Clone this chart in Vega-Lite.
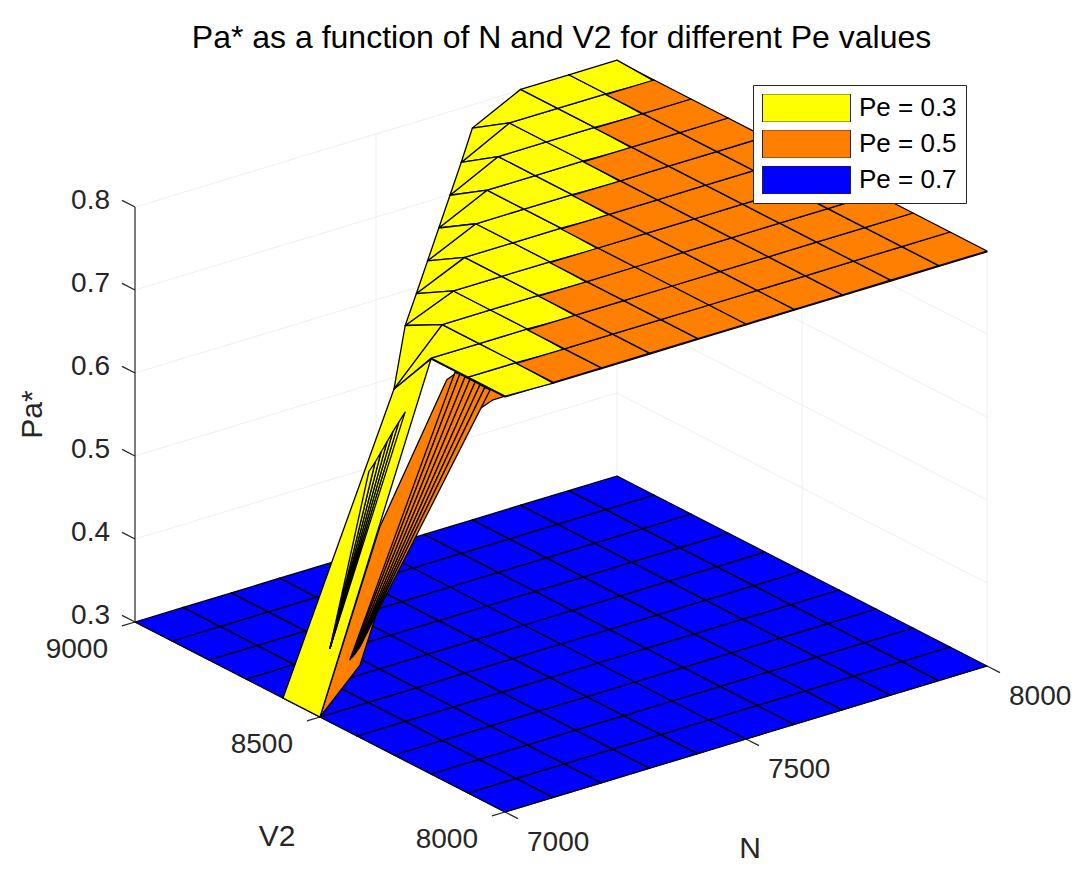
{
  "$schema": "https://vega.github.io/schema/vega-lite/v6.json",
  "width": 1089,
  "height": 805,
  "autosize": {"type": "none"},
  "padding": {"top": 70, "left": 0, "right": 0, "bottom": 0},
  "background": "white",
  "config": {"view": {"stroke": null}, "font": "Liberation Sans"},
  "title": {
    "text": "Pa* as a function of N and V2 for different Pe values",
    "fontSize": 32,
    "font": "Liberation Sans",
    "fontWeight": "normal",
    "color": "#000000",
    "frame": "group",
    "anchor": "middle",
    "baseline": "alphabetic",
    "offset": 22,
    "dx": 17,
    "dy": 43
  },
  "datasets": {
    "frame": [
      {"kind": "g", "id": "gz4", "N": [7000, 8000, 8000], "V2": [9000, 9000, 8000], "Pa": [0.4, 0.4, 0.4]},
      {"kind": "g", "id": "gz5", "N": [7000, 8000, 8000], "V2": [9000, 9000, 8000], "Pa": [0.5, 0.5, 0.5]},
      {"kind": "g", "id": "gz6", "N": [7000, 8000, 8000], "V2": [9000, 9000, 8000], "Pa": [0.6, 0.6, 0.6]},
      {"kind": "g", "id": "gz7", "N": [7000, 8000, 8000], "V2": [9000, 9000, 8000], "Pa": [0.7, 0.7, 0.7]},
      {"kind": "g", "id": "gz8", "N": [7000, 8000, 8000], "V2": [9000, 9000, 8000], "Pa": [0.8, 0.8, 0.8]},
      {"kind": "g", "id": "gn75", "N": [7500, 7500], "V2": [9000, 9000], "Pa": [0.3, 0.8]},
      {"kind": "g", "id": "gn80", "N": [8000, 8000], "V2": [9000, 9000], "Pa": [0.3, 0.8]},
      {"kind": "g", "id": "gv80", "N": [8000, 8000], "V2": [8000, 8000], "Pa": [0.3, 0.8]},
      {"kind": "g", "id": "gv85", "N": [8000, 8000], "V2": [8500, 8500], "Pa": [0.3, 0.8]},
      {"kind": "a", "id": "az", "N": [7000, 7000], "V2": [9000, 9000], "Pa": [0.3, 0.8]},
      {"kind": "a", "id": "av", "N": [7000, 7000], "V2": [8000, 9000], "Pa": [0.3, 0.3]},
      {"kind": "a", "id": "an", "N": [7000, 8000], "V2": [8000, 8000], "Pa": [0.3, 0.3]},
      {"kind": "a", "id": "tz3", "N": [7000, 7000], "V2": [9000, 9035], "Pa": [0.3, 0.3]},
      {"kind": "a", "id": "tz4", "N": [7000, 7000], "V2": [9000, 9035], "Pa": [0.4, 0.4]},
      {"kind": "a", "id": "tz5", "N": [7000, 7000], "V2": [9000, 9035], "Pa": [0.5, 0.5]},
      {"kind": "a", "id": "tz6", "N": [7000, 7000], "V2": [9000, 9035], "Pa": [0.6, 0.6]},
      {"kind": "a", "id": "tz7", "N": [7000, 7000], "V2": [9000, 9035], "Pa": [0.7, 0.7]},
      {"kind": "a", "id": "tz8", "N": [7000, 7000], "V2": [9000, 9035], "Pa": [0.8, 0.8]},
      {"kind": "a", "id": "tv80", "N": [7000, 6973], "V2": [8000, 8000], "Pa": [0.3, 0.3]},
      {"kind": "a", "id": "tv85", "N": [7000, 6973], "V2": [8500, 8500], "Pa": [0.3, 0.3]},
      {"kind": "a", "id": "tv90", "N": [7000, 6973], "V2": [9000, 9000], "Pa": [0.3, 0.3]},
      {"kind": "a", "id": "tn70", "N": [7000, 7000], "V2": [8000, 7965], "Pa": [0.3, 0.3]},
      {"kind": "a", "id": "tn75", "N": [7500, 7500], "V2": [8000, 7965], "Pa": [0.3, 0.3]},
      {"kind": "a", "id": "tn80", "N": [8000, 8000], "V2": [8000, 7965], "Pa": [0.3, 0.3]}
    ],
    "labels": [
      {"kind": "z", "t": "0.3", "N": 7000, "V2": 9000, "Pa": 0.3},
      {"kind": "z", "t": "0.4", "N": 7000, "V2": 9000, "Pa": 0.4},
      {"kind": "z", "t": "0.5", "N": 7000, "V2": 9000, "Pa": 0.5},
      {"kind": "z", "t": "0.6", "N": 7000, "V2": 9000, "Pa": 0.6},
      {"kind": "z", "t": "0.7", "N": 7000, "V2": 9000, "Pa": 0.7},
      {"kind": "z", "t": "0.8", "N": 7000, "V2": 9000, "Pa": 0.8},
      {"kind": "v", "t": "8000", "N": 7000, "V2": 8000, "Pa": 0.3},
      {"kind": "v", "t": "8500", "N": 7000, "V2": 8500, "Pa": 0.3},
      {"kind": "v", "t": "9000", "N": 7000, "V2": 9000, "Pa": 0.3},
      {"kind": "n", "t": "7000", "N": 7000, "V2": 8000, "Pa": 0.3},
      {"kind": "n", "t": "7500", "N": 7500, "V2": 8000, "Pa": 0.3},
      {"kind": "n", "t": "8000", "N": 8000, "V2": 8000, "Pa": 0.3},
      {"kind": "tv", "t": "V2", "N": 7000, "V2": 8500, "Pa": 0.3},
      {"kind": "tn", "t": "N", "N": 7500, "V2": 8000, "Pa": 0.3},
      {"kind": "tz", "t": "Pa*", "N": 7000, "V2": 9000, "Pa": 0.55}
    ],
    "cells": [
      {"Pe": "0.7", "id": "b00", "N": [7000,7100,7100,7000], "V2": [8000,8000,8100,8100], "Pa": [0.3,0.3,0.3,0.3]},
      {"Pe": "0.7", "id": "b10", "N": [7100,7200,7200,7100], "V2": [8000,8000,8100,8100], "Pa": [0.3,0.3,0.3,0.3]},
      {"Pe": "0.7", "id": "b20", "N": [7200,7300,7300,7200], "V2": [8000,8000,8100,8100], "Pa": [0.3,0.3,0.3,0.3]},
      {"Pe": "0.7", "id": "b30", "N": [7300,7400,7400,7300], "V2": [8000,8000,8100,8100], "Pa": [0.3,0.3,0.3,0.3]},
      {"Pe": "0.7", "id": "b40", "N": [7400,7500,7500,7400], "V2": [8000,8000,8100,8100], "Pa": [0.3,0.3,0.3,0.3]},
      {"Pe": "0.7", "id": "b50", "N": [7500,7600,7600,7500], "V2": [8000,8000,8100,8100], "Pa": [0.3,0.3,0.3,0.3]},
      {"Pe": "0.7", "id": "b60", "N": [7600,7700,7700,7600], "V2": [8000,8000,8100,8100], "Pa": [0.3,0.3,0.3,0.3]},
      {"Pe": "0.7", "id": "b70", "N": [7700,7800,7800,7700], "V2": [8000,8000,8100,8100], "Pa": [0.3,0.3,0.3,0.3]},
      {"Pe": "0.7", "id": "b80", "N": [7800,7900,7900,7800], "V2": [8000,8000,8100,8100], "Pa": [0.3,0.3,0.3,0.3]},
      {"Pe": "0.7", "id": "b90", "N": [7900,8000,8000,7900], "V2": [8000,8000,8100,8100], "Pa": [0.3,0.3,0.3,0.3]},
      {"Pe": "0.7", "id": "b01", "N": [7000,7100,7100,7000], "V2": [8100,8100,8200,8200], "Pa": [0.3,0.3,0.3,0.3]},
      {"Pe": "0.7", "id": "b11", "N": [7100,7200,7200,7100], "V2": [8100,8100,8200,8200], "Pa": [0.3,0.3,0.3,0.3]},
      {"Pe": "0.7", "id": "b21", "N": [7200,7300,7300,7200], "V2": [8100,8100,8200,8200], "Pa": [0.3,0.3,0.3,0.3]},
      {"Pe": "0.7", "id": "b31", "N": [7300,7400,7400,7300], "V2": [8100,8100,8200,8200], "Pa": [0.3,0.3,0.3,0.3]},
      {"Pe": "0.7", "id": "b41", "N": [7400,7500,7500,7400], "V2": [8100,8100,8200,8200], "Pa": [0.3,0.3,0.3,0.3]},
      {"Pe": "0.7", "id": "b51", "N": [7500,7600,7600,7500], "V2": [8100,8100,8200,8200], "Pa": [0.3,0.3,0.3,0.3]},
      {"Pe": "0.7", "id": "b61", "N": [7600,7700,7700,7600], "V2": [8100,8100,8200,8200], "Pa": [0.3,0.3,0.3,0.3]},
      {"Pe": "0.7", "id": "b71", "N": [7700,7800,7800,7700], "V2": [8100,8100,8200,8200], "Pa": [0.3,0.3,0.3,0.3]},
      {"Pe": "0.7", "id": "b81", "N": [7800,7900,7900,7800], "V2": [8100,8100,8200,8200], "Pa": [0.3,0.3,0.3,0.3]},
      {"Pe": "0.7", "id": "b91", "N": [7900,8000,8000,7900], "V2": [8100,8100,8200,8200], "Pa": [0.3,0.3,0.3,0.3]},
      {"Pe": "0.7", "id": "b02", "N": [7000,7100,7100,7000], "V2": [8200,8200,8300,8300], "Pa": [0.3,0.3,0.3,0.3]},
      {"Pe": "0.7", "id": "b12", "N": [7100,7200,7200,7100], "V2": [8200,8200,8300,8300], "Pa": [0.3,0.3,0.3,0.3]},
      {"Pe": "0.7", "id": "b22", "N": [7200,7300,7300,7200], "V2": [8200,8200,8300,8300], "Pa": [0.3,0.3,0.3,0.3]},
      {"Pe": "0.7", "id": "b32", "N": [7300,7400,7400,7300], "V2": [8200,8200,8300,8300], "Pa": [0.3,0.3,0.3,0.3]},
      {"Pe": "0.7", "id": "b42", "N": [7400,7500,7500,7400], "V2": [8200,8200,8300,8300], "Pa": [0.3,0.3,0.3,0.3]},
      {"Pe": "0.7", "id": "b52", "N": [7500,7600,7600,7500], "V2": [8200,8200,8300,8300], "Pa": [0.3,0.3,0.3,0.3]},
      {"Pe": "0.7", "id": "b62", "N": [7600,7700,7700,7600], "V2": [8200,8200,8300,8300], "Pa": [0.3,0.3,0.3,0.3]},
      {"Pe": "0.7", "id": "b72", "N": [7700,7800,7800,7700], "V2": [8200,8200,8300,8300], "Pa": [0.3,0.3,0.3,0.3]},
      {"Pe": "0.7", "id": "b82", "N": [7800,7900,7900,7800], "V2": [8200,8200,8300,8300], "Pa": [0.3,0.3,0.3,0.3]},
      {"Pe": "0.7", "id": "b92", "N": [7900,8000,8000,7900], "V2": [8200,8200,8300,8300], "Pa": [0.3,0.3,0.3,0.3]},
      {"Pe": "0.7", "id": "b03", "N": [7000,7100,7100,7000], "V2": [8300,8300,8400,8400], "Pa": [0.3,0.3,0.3,0.3]},
      {"Pe": "0.7", "id": "b13", "N": [7100,7200,7200,7100], "V2": [8300,8300,8400,8400], "Pa": [0.3,0.3,0.3,0.3]},
      {"Pe": "0.7", "id": "b23", "N": [7200,7300,7300,7200], "V2": [8300,8300,8400,8400], "Pa": [0.3,0.3,0.3,0.3]},
      {"Pe": "0.7", "id": "b33", "N": [7300,7400,7400,7300], "V2": [8300,8300,8400,8400], "Pa": [0.3,0.3,0.3,0.3]},
      {"Pe": "0.7", "id": "b43", "N": [7400,7500,7500,7400], "V2": [8300,8300,8400,8400], "Pa": [0.3,0.3,0.3,0.3]},
      {"Pe": "0.7", "id": "b53", "N": [7500,7600,7600,7500], "V2": [8300,8300,8400,8400], "Pa": [0.3,0.3,0.3,0.3]},
      {"Pe": "0.7", "id": "b63", "N": [7600,7700,7700,7600], "V2": [8300,8300,8400,8400], "Pa": [0.3,0.3,0.3,0.3]},
      {"Pe": "0.7", "id": "b73", "N": [7700,7800,7800,7700], "V2": [8300,8300,8400,8400], "Pa": [0.3,0.3,0.3,0.3]},
      {"Pe": "0.7", "id": "b83", "N": [7800,7900,7900,7800], "V2": [8300,8300,8400,8400], "Pa": [0.3,0.3,0.3,0.3]},
      {"Pe": "0.7", "id": "b93", "N": [7900,8000,8000,7900], "V2": [8300,8300,8400,8400], "Pa": [0.3,0.3,0.3,0.3]},
      {"Pe": "0.7", "id": "b04", "N": [7000,7100,7100,7000], "V2": [8400,8400,8500,8500], "Pa": [0.3,0.3,0.3,0.3]},
      {"Pe": "0.7", "id": "b14", "N": [7100,7200,7200,7100], "V2": [8400,8400,8500,8500], "Pa": [0.3,0.3,0.3,0.3]},
      {"Pe": "0.7", "id": "b24", "N": [7200,7300,7300,7200], "V2": [8400,8400,8500,8500], "Pa": [0.3,0.3,0.3,0.3]},
      {"Pe": "0.7", "id": "b34", "N": [7300,7400,7400,7300], "V2": [8400,8400,8500,8500], "Pa": [0.3,0.3,0.3,0.3]},
      {"Pe": "0.7", "id": "b44", "N": [7400,7500,7500,7400], "V2": [8400,8400,8500,8500], "Pa": [0.3,0.3,0.3,0.3]},
      {"Pe": "0.7", "id": "b54", "N": [7500,7600,7600,7500], "V2": [8400,8400,8500,8500], "Pa": [0.3,0.3,0.3,0.3]},
      {"Pe": "0.7", "id": "b64", "N": [7600,7700,7700,7600], "V2": [8400,8400,8500,8500], "Pa": [0.3,0.3,0.3,0.3]},
      {"Pe": "0.7", "id": "b74", "N": [7700,7800,7800,7700], "V2": [8400,8400,8500,8500], "Pa": [0.3,0.3,0.3,0.3]},
      {"Pe": "0.7", "id": "b84", "N": [7800,7900,7900,7800], "V2": [8400,8400,8500,8500], "Pa": [0.3,0.3,0.3,0.3]},
      {"Pe": "0.7", "id": "b94", "N": [7900,8000,8000,7900], "V2": [8400,8400,8500,8500], "Pa": [0.3,0.3,0.3,0.3]},
      {"Pe": "0.7", "id": "b05", "N": [7000,7100,7100,7000], "V2": [8500,8500,8600,8600], "Pa": [0.3,0.3,0.3,0.3]},
      {"Pe": "0.7", "id": "b15", "N": [7100,7200,7200,7100], "V2": [8500,8500,8600,8600], "Pa": [0.3,0.3,0.3,0.3]},
      {"Pe": "0.7", "id": "b25", "N": [7200,7300,7300,7200], "V2": [8500,8500,8600,8600], "Pa": [0.3,0.3,0.3,0.3]},
      {"Pe": "0.7", "id": "b35", "N": [7300,7400,7400,7300], "V2": [8500,8500,8600,8600], "Pa": [0.3,0.3,0.3,0.3]},
      {"Pe": "0.7", "id": "b45", "N": [7400,7500,7500,7400], "V2": [8500,8500,8600,8600], "Pa": [0.3,0.3,0.3,0.3]},
      {"Pe": "0.7", "id": "b55", "N": [7500,7600,7600,7500], "V2": [8500,8500,8600,8600], "Pa": [0.3,0.3,0.3,0.3]},
      {"Pe": "0.7", "id": "b65", "N": [7600,7700,7700,7600], "V2": [8500,8500,8600,8600], "Pa": [0.3,0.3,0.3,0.3]},
      {"Pe": "0.7", "id": "b75", "N": [7700,7800,7800,7700], "V2": [8500,8500,8600,8600], "Pa": [0.3,0.3,0.3,0.3]},
      {"Pe": "0.7", "id": "b85", "N": [7800,7900,7900,7800], "V2": [8500,8500,8600,8600], "Pa": [0.3,0.3,0.3,0.3]},
      {"Pe": "0.7", "id": "b95", "N": [7900,8000,8000,7900], "V2": [8500,8500,8600,8600], "Pa": [0.3,0.3,0.3,0.3]},
      {"Pe": "0.7", "id": "b06", "N": [7000,7100,7100,7000], "V2": [8600,8600,8700,8700], "Pa": [0.3,0.3,0.3,0.3]},
      {"Pe": "0.7", "id": "b16", "N": [7100,7200,7200,7100], "V2": [8600,8600,8700,8700], "Pa": [0.3,0.3,0.3,0.3]},
      {"Pe": "0.7", "id": "b26", "N": [7200,7300,7300,7200], "V2": [8600,8600,8700,8700], "Pa": [0.3,0.3,0.3,0.3]},
      {"Pe": "0.7", "id": "b36", "N": [7300,7400,7400,7300], "V2": [8600,8600,8700,8700], "Pa": [0.3,0.3,0.3,0.3]},
      {"Pe": "0.7", "id": "b46", "N": [7400,7500,7500,7400], "V2": [8600,8600,8700,8700], "Pa": [0.3,0.3,0.3,0.3]},
      {"Pe": "0.7", "id": "b56", "N": [7500,7600,7600,7500], "V2": [8600,8600,8700,8700], "Pa": [0.3,0.3,0.3,0.3]},
      {"Pe": "0.7", "id": "b66", "N": [7600,7700,7700,7600], "V2": [8600,8600,8700,8700], "Pa": [0.3,0.3,0.3,0.3]},
      {"Pe": "0.7", "id": "b76", "N": [7700,7800,7800,7700], "V2": [8600,8600,8700,8700], "Pa": [0.3,0.3,0.3,0.3]},
      {"Pe": "0.7", "id": "b86", "N": [7800,7900,7900,7800], "V2": [8600,8600,8700,8700], "Pa": [0.3,0.3,0.3,0.3]},
      {"Pe": "0.7", "id": "b96", "N": [7900,8000,8000,7900], "V2": [8600,8600,8700,8700], "Pa": [0.3,0.3,0.3,0.3]},
      {"Pe": "0.7", "id": "b07", "N": [7000,7100,7100,7000], "V2": [8700,8700,8800,8800], "Pa": [0.3,0.3,0.3,0.3]},
      {"Pe": "0.7", "id": "b17", "N": [7100,7200,7200,7100], "V2": [8700,8700,8800,8800], "Pa": [0.3,0.3,0.3,0.3]},
      {"Pe": "0.7", "id": "b27", "N": [7200,7300,7300,7200], "V2": [8700,8700,8800,8800], "Pa": [0.3,0.3,0.3,0.3]},
      {"Pe": "0.7", "id": "b37", "N": [7300,7400,7400,7300], "V2": [8700,8700,8800,8800], "Pa": [0.3,0.3,0.3,0.3]},
      {"Pe": "0.7", "id": "b47", "N": [7400,7500,7500,7400], "V2": [8700,8700,8800,8800], "Pa": [0.3,0.3,0.3,0.3]},
      {"Pe": "0.7", "id": "b57", "N": [7500,7600,7600,7500], "V2": [8700,8700,8800,8800], "Pa": [0.3,0.3,0.3,0.3]},
      {"Pe": "0.7", "id": "b67", "N": [7600,7700,7700,7600], "V2": [8700,8700,8800,8800], "Pa": [0.3,0.3,0.3,0.3]},
      {"Pe": "0.7", "id": "b77", "N": [7700,7800,7800,7700], "V2": [8700,8700,8800,8800], "Pa": [0.3,0.3,0.3,0.3]},
      {"Pe": "0.7", "id": "b87", "N": [7800,7900,7900,7800], "V2": [8700,8700,8800,8800], "Pa": [0.3,0.3,0.3,0.3]},
      {"Pe": "0.7", "id": "b97", "N": [7900,8000,8000,7900], "V2": [8700,8700,8800,8800], "Pa": [0.3,0.3,0.3,0.3]},
      {"Pe": "0.7", "id": "b08", "N": [7000,7100,7100,7000], "V2": [8800,8800,8900,8900], "Pa": [0.3,0.3,0.3,0.3]},
      {"Pe": "0.7", "id": "b18", "N": [7100,7200,7200,7100], "V2": [8800,8800,8900,8900], "Pa": [0.3,0.3,0.3,0.3]},
      {"Pe": "0.7", "id": "b28", "N": [7200,7300,7300,7200], "V2": [8800,8800,8900,8900], "Pa": [0.3,0.3,0.3,0.3]},
      {"Pe": "0.7", "id": "b38", "N": [7300,7400,7400,7300], "V2": [8800,8800,8900,8900], "Pa": [0.3,0.3,0.3,0.3]},
      {"Pe": "0.7", "id": "b48", "N": [7400,7500,7500,7400], "V2": [8800,8800,8900,8900], "Pa": [0.3,0.3,0.3,0.3]},
      {"Pe": "0.7", "id": "b58", "N": [7500,7600,7600,7500], "V2": [8800,8800,8900,8900], "Pa": [0.3,0.3,0.3,0.3]},
      {"Pe": "0.7", "id": "b68", "N": [7600,7700,7700,7600], "V2": [8800,8800,8900,8900], "Pa": [0.3,0.3,0.3,0.3]},
      {"Pe": "0.7", "id": "b78", "N": [7700,7800,7800,7700], "V2": [8800,8800,8900,8900], "Pa": [0.3,0.3,0.3,0.3]},
      {"Pe": "0.7", "id": "b88", "N": [7800,7900,7900,7800], "V2": [8800,8800,8900,8900], "Pa": [0.3,0.3,0.3,0.3]},
      {"Pe": "0.7", "id": "b98", "N": [7900,8000,8000,7900], "V2": [8800,8800,8900,8900], "Pa": [0.3,0.3,0.3,0.3]},
      {"Pe": "0.7", "id": "b09", "N": [7000,7100,7100,7000], "V2": [8900,8900,9000,9000], "Pa": [0.3,0.3,0.3,0.3]},
      {"Pe": "0.7", "id": "b19", "N": [7100,7200,7200,7100], "V2": [8900,8900,9000,9000], "Pa": [0.3,0.3,0.3,0.3]},
      {"Pe": "0.7", "id": "b29", "N": [7200,7300,7300,7200], "V2": [8900,8900,9000,9000], "Pa": [0.3,0.3,0.3,0.3]},
      {"Pe": "0.7", "id": "b39", "N": [7300,7400,7400,7300], "V2": [8900,8900,9000,9000], "Pa": [0.3,0.3,0.3,0.3]},
      {"Pe": "0.7", "id": "b49", "N": [7400,7500,7500,7400], "V2": [8900,8900,9000,9000], "Pa": [0.3,0.3,0.3,0.3]},
      {"Pe": "0.7", "id": "b59", "N": [7500,7600,7600,7500], "V2": [8900,8900,9000,9000], "Pa": [0.3,0.3,0.3,0.3]},
      {"Pe": "0.7", "id": "b69", "N": [7600,7700,7700,7600], "V2": [8900,8900,9000,9000], "Pa": [0.3,0.3,0.3,0.3]},
      {"Pe": "0.7", "id": "b79", "N": [7700,7800,7800,7700], "V2": [8900,8900,9000,9000], "Pa": [0.3,0.3,0.3,0.3]},
      {"Pe": "0.7", "id": "b89", "N": [7800,7900,7900,7800], "V2": [8900,8900,9000,9000], "Pa": [0.3,0.3,0.3,0.3]},
      {"Pe": "0.7", "id": "b99", "N": [7900,8000,8000,7900], "V2": [8900,8900,9000,9000], "Pa": [0.3,0.3,0.3,0.3]},

      {"Pe": "0.5", "id": "ow", "N": [7000,7083,7151,7243,7317,7359,7442,7284,7263,7124], "V2": [8500,8500,8500,8500,8500,8500,8500,8500,8500,8500], "Pa": [0.3,0.348,0.459,0.563,0.61,0.619,0.619,0.665,0.66,0.507]},
      {"Pe": "0.5", "id": "os0", "N": [7280,7290,7065,7062], "V2": [8500,8500,8500,8500], "Pa": [0.666,0.662,0.36,0.358]},
      {"Pe": "0.5", "id": "os1", "N": [7290,7301,7068,7065], "V2": [8500,8500,8500,8500], "Pa": [0.662,0.657,0.361,0.36]},
      {"Pe": "0.5", "id": "os2", "N": [7301,7311,7072,7068], "V2": [8500,8500,8500,8500], "Pa": [0.657,0.652,0.363,0.361]},
      {"Pe": "0.5", "id": "os3", "N": [7311,7322,7075,7072], "V2": [8500,8500,8500,8500], "Pa": [0.652,0.647,0.365,0.363]},
      {"Pe": "0.5", "id": "os4", "N": [7322,7332,7078,7075], "V2": [8500,8500,8500,8500], "Pa": [0.647,0.642,0.367,0.365]},
      {"Pe": "0.5", "id": "os5", "N": [7332,7342,7081,7078], "V2": [8500,8500,8500,8500], "Pa": [0.642,0.637,0.369,0.367]},
      {"Pe": "0.5", "id": "os6", "N": [7342,7353,7084,7081], "V2": [8500,8500,8500,8500], "Pa": [0.637,0.632,0.371,0.369]},

      {"Pe": "0.3", "id": "yw", "N": [7000,7000,7000,7000], "V2": [8200,8300,8600,8500], "Pa": [0.8,0.741,0.3,0.3]},
      {"Pe": "0.3", "id": "ys0", "N": [7000,7000,7000], "V2": [8270,8287,8473], "Pa": [0.72,0.704,0.389]},
      {"Pe": "0.3", "id": "ys1", "N": [7000,7000,7000], "V2": [8287,8303,8473], "Pa": [0.704,0.689,0.389]},
      {"Pe": "0.3", "id": "ys2", "N": [7000,7000,7000], "V2": [8303,8319,8473], "Pa": [0.689,0.673,0.389]},
      {"Pe": "0.3", "id": "ys3", "N": [7000,7000,7000], "V2": [8319,8335,8473], "Pa": [0.673,0.657,0.389]},
      {"Pe": "0.3", "id": "ys4", "N": [7000,7000,7000], "V2": [8335,8351,8473], "Pa": [0.657,0.641,0.389]},
      {"Pe": "0.3", "id": "ys5", "N": [7000,7000,7000], "V2": [8351,8368,8473], "Pa": [0.641,0.626,0.389]},

      {"Pe": "0.5", "id": "o00", "N": [7000,7100,7100,7000], "V2": [8000,8000,8100,8100], "Pa": [0.8,0.8,0.8,0.8]},
      {"Pe": "0.5", "id": "o11", "N": [7100,7200,7200,7100], "V2": [8100,8100,8200,8200], "Pa": [0.8,0.8,0.8,0.8]},
      {"Pe": "0.5", "id": "o22", "N": [7200,7300,7300,7200], "V2": [8200,8200,8300,8300], "Pa": [0.8,0.8,0.8,0.8]},
      {"Pe": "0.5", "id": "o33", "N": [7300,7400,7400,7300], "V2": [8300,8300,8400,8400], "Pa": [0.8,0.8,0.8,0.8]},
      {"Pe": "0.5", "id": "o44", "N": [7400,7500,7500,7400], "V2": [8400,8400,8500,8500], "Pa": [0.8,0.8,0.8,0.8]},
      {"Pe": "0.5", "id": "o55", "N": [7500,7600,7600,7500], "V2": [8500,8500,8600,8600], "Pa": [0.8,0.8,0.8,0.8]},
      {"Pe": "0.5", "id": "o66", "N": [7600,7700,7700,7600], "V2": [8600,8600,8700,8700], "Pa": [0.8,0.8,0.8,0.8]},
      {"Pe": "0.5", "id": "o77", "N": [7700,7800,7800,7700], "V2": [8700,8700,8800,8800], "Pa": [0.8,0.8,0.8,0.8]},
      {"Pe": "0.5", "id": "o88", "N": [7800,7900,7900,7800], "V2": [8800,8800,8900,8900], "Pa": [0.8,0.8,0.8,0.8]},
      {"Pe": "0.5", "id": "o99", "N": [7900,8000,8000,7900], "V2": [8900,8900,9000,9000], "Pa": [0.8,0.8,0.8,0.8]},
      {"Pe": "0.5", "id": "o01", "N": [7000,7100,7100,7000], "V2": [8100,8100,8200,8200], "Pa": [0.8,0.8,0.8,0.8]},
      {"Pe": "0.5", "id": "o12", "N": [7100,7200,7200,7100], "V2": [8200,8200,8300,8300], "Pa": [0.8,0.8,0.8,0.8]},
      {"Pe": "0.5", "id": "o23", "N": [7200,7300,7300,7200], "V2": [8300,8300,8400,8400], "Pa": [0.8,0.8,0.8,0.8]},
      {"Pe": "0.5", "id": "o34", "N": [7300,7400,7400,7300], "V2": [8400,8400,8500,8500], "Pa": [0.8,0.8,0.8,0.8]},
      {"Pe": "0.5", "id": "o45", "N": [7400,7500,7500,7400], "V2": [8500,8500,8600,8600], "Pa": [0.8,0.8,0.8,0.8]},
      {"Pe": "0.5", "id": "o56", "N": [7500,7600,7600,7500], "V2": [8600,8600,8700,8700], "Pa": [0.8,0.8,0.8,0.8]},
      {"Pe": "0.5", "id": "o67", "N": [7600,7700,7700,7600], "V2": [8700,8700,8800,8800], "Pa": [0.8,0.8,0.8,0.8]},
      {"Pe": "0.5", "id": "o78", "N": [7700,7800,7800,7700], "V2": [8800,8800,8900,8900], "Pa": [0.8,0.8,0.8,0.8]},
      {"Pe": "0.5", "id": "o89", "N": [7800,7900,7900,7800], "V2": [8900,8900,9000,9000], "Pa": [0.8,0.8,0.8,0.8]},

      {"Pe": "0.3", "id": "y10", "N": [7100,7200,7200,7100], "V2": [8000,8000,8100,8100], "Pa": [0.799,0.799,0.799,0.801]},
      {"Pe": "0.3", "id": "y20", "N": [7200,7300,7300,7200], "V2": [8000,8000,8100,8100], "Pa": [0.799,0.799,0.799,0.799]},
      {"Pe": "0.3", "id": "y30", "N": [7300,7400,7400,7300], "V2": [8000,8000,8100,8100], "Pa": [0.799,0.799,0.799,0.799]},
      {"Pe": "0.3", "id": "y40", "N": [7400,7500,7500,7400], "V2": [8000,8000,8100,8100], "Pa": [0.799,0.799,0.799,0.799]},
      {"Pe": "0.3", "id": "y50", "N": [7500,7600,7600,7500], "V2": [8000,8000,8100,8100], "Pa": [0.799,0.799,0.799,0.799]},
      {"Pe": "0.3", "id": "y60", "N": [7600,7700,7700,7600], "V2": [8000,8000,8100,8100], "Pa": [0.799,0.799,0.799,0.799]},
      {"Pe": "0.3", "id": "y70", "N": [7700,7800,7800,7700], "V2": [8000,8000,8100,8100], "Pa": [0.799,0.799,0.799,0.799]},
      {"Pe": "0.3", "id": "y80", "N": [7800,7900,7900,7800], "V2": [8000,8000,8100,8100], "Pa": [0.799,0.799,0.799,0.799]},
      {"Pe": "0.3", "id": "y90", "N": [7900,8000,8000,7900], "V2": [8000,8000,8100,8100], "Pa": [0.799,0.799,0.799,0.799]},
      {"Pe": "0.3", "id": "y21", "N": [7200,7300,7300,7200], "V2": [8100,8100,8200,8200], "Pa": [0.799,0.799,0.799,0.801]},
      {"Pe": "0.3", "id": "y31", "N": [7300,7400,7400,7300], "V2": [8100,8100,8200,8200], "Pa": [0.799,0.799,0.799,0.799]},
      {"Pe": "0.3", "id": "y41", "N": [7400,7500,7500,7400], "V2": [8100,8100,8200,8200], "Pa": [0.799,0.799,0.799,0.799]},
      {"Pe": "0.3", "id": "y51", "N": [7500,7600,7600,7500], "V2": [8100,8100,8200,8200], "Pa": [0.799,0.799,0.799,0.799]},
      {"Pe": "0.3", "id": "y61", "N": [7600,7700,7700,7600], "V2": [8100,8100,8200,8200], "Pa": [0.799,0.799,0.799,0.799]},
      {"Pe": "0.3", "id": "y71", "N": [7700,7800,7800,7700], "V2": [8100,8100,8200,8200], "Pa": [0.799,0.799,0.799,0.799]},
      {"Pe": "0.3", "id": "y81", "N": [7800,7900,7900,7800], "V2": [8100,8100,8200,8200], "Pa": [0.799,0.799,0.799,0.799]},
      {"Pe": "0.3", "id": "y91", "N": [7900,8000,8000,7900], "V2": [8100,8100,8200,8200], "Pa": [0.799,0.799,0.799,0.799]},
      {"Pe": "0.3", "id": "y32", "N": [7300,7400,7400,7300], "V2": [8200,8200,8300,8300], "Pa": [0.799,0.799,0.799,0.801]},
      {"Pe": "0.3", "id": "y42", "N": [7400,7500,7500,7400], "V2": [8200,8200,8300,8300], "Pa": [0.799,0.799,0.799,0.799]},
      {"Pe": "0.3", "id": "y52", "N": [7500,7600,7600,7500], "V2": [8200,8200,8300,8300], "Pa": [0.799,0.799,0.799,0.799]},
      {"Pe": "0.3", "id": "y62", "N": [7600,7700,7700,7600], "V2": [8200,8200,8300,8300], "Pa": [0.799,0.799,0.799,0.799]},
      {"Pe": "0.3", "id": "y72", "N": [7700,7800,7800,7700], "V2": [8200,8200,8300,8300], "Pa": [0.799,0.799,0.799,0.799]},
      {"Pe": "0.3", "id": "y82", "N": [7800,7900,7900,7800], "V2": [8200,8200,8300,8300], "Pa": [0.799,0.799,0.799,0.799]},
      {"Pe": "0.3", "id": "y92", "N": [7900,8000,8000,7900], "V2": [8200,8200,8300,8300], "Pa": [0.799,0.799,0.799,0.799]},
      {"Pe": "0.3", "id": "y43", "N": [7400,7500,7500,7400], "V2": [8300,8300,8400,8400], "Pa": [0.799,0.799,0.799,0.801]},
      {"Pe": "0.3", "id": "y53", "N": [7500,7600,7600,7500], "V2": [8300,8300,8400,8400], "Pa": [0.799,0.799,0.799,0.799]},
      {"Pe": "0.3", "id": "y63", "N": [7600,7700,7700,7600], "V2": [8300,8300,8400,8400], "Pa": [0.799,0.799,0.799,0.799]},
      {"Pe": "0.3", "id": "y73", "N": [7700,7800,7800,7700], "V2": [8300,8300,8400,8400], "Pa": [0.799,0.799,0.799,0.799]},
      {"Pe": "0.3", "id": "y83", "N": [7800,7900,7900,7800], "V2": [8300,8300,8400,8400], "Pa": [0.799,0.799,0.799,0.799]},
      {"Pe": "0.3", "id": "y93", "N": [7900,8000,8000,7900], "V2": [8300,8300,8400,8400], "Pa": [0.799,0.799,0.799,0.799]},
      {"Pe": "0.3", "id": "y54", "N": [7500,7600,7600,7500], "V2": [8400,8400,8500,8500], "Pa": [0.799,0.799,0.799,0.801]},
      {"Pe": "0.3", "id": "y64", "N": [7600,7700,7700,7600], "V2": [8400,8400,8500,8500], "Pa": [0.799,0.799,0.799,0.799]},
      {"Pe": "0.3", "id": "y74", "N": [7700,7800,7800,7700], "V2": [8400,8400,8500,8500], "Pa": [0.799,0.799,0.799,0.799]},
      {"Pe": "0.3", "id": "y84", "N": [7800,7900,7900,7800], "V2": [8400,8400,8500,8500], "Pa": [0.799,0.799,0.799,0.799]},
      {"Pe": "0.3", "id": "y94", "N": [7900,8000,8000,7900], "V2": [8400,8400,8500,8500], "Pa": [0.799,0.799,0.799,0.799]},
      {"Pe": "0.3", "id": "y65", "N": [7600,7700,7700,7600], "V2": [8500,8500,8600,8600], "Pa": [0.799,0.799,0.799,0.801]},
      {"Pe": "0.3", "id": "y75", "N": [7700,7800,7800,7700], "V2": [8500,8500,8600,8600], "Pa": [0.799,0.799,0.799,0.799]},
      {"Pe": "0.3", "id": "y85", "N": [7800,7900,7900,7800], "V2": [8500,8500,8600,8600], "Pa": [0.799,0.799,0.799,0.799]},
      {"Pe": "0.3", "id": "y95", "N": [7900,8000,8000,7900], "V2": [8500,8500,8600,8600], "Pa": [0.799,0.799,0.799,0.799]},
      {"Pe": "0.3", "id": "y76", "N": [7700,7800,7800,7700], "V2": [8600,8600,8700,8700], "Pa": [0.799,0.799,0.799,0.801]},
      {"Pe": "0.3", "id": "y86", "N": [7800,7900,7900,7800], "V2": [8600,8600,8700,8700], "Pa": [0.799,0.799,0.799,0.799]},
      {"Pe": "0.3", "id": "y96", "N": [7900,8000,8000,7900], "V2": [8600,8600,8700,8700], "Pa": [0.799,0.799,0.799,0.799]},
      {"Pe": "0.3", "id": "y87", "N": [7800,7900,7900,7800], "V2": [8700,8700,8800,8800], "Pa": [0.799,0.799,0.799,0.801]},
      {"Pe": "0.3", "id": "y97", "N": [7900,8000,8000,7900], "V2": [8700,8700,8800,8800], "Pa": [0.799,0.799,0.799,0.799]},
      {"Pe": "0.3", "id": "y98", "N": [7900,8000,8000,7900], "V2": [8800,8800,8900,8900], "Pa": [0.799,0.799,0.799,0.801]},

      {"Pe": "0.3", "id": "y00", "N": [7000,7100,7100,7000], "V2": [8000,8000,8100,8100], "Pa": [0.801,0.799,0.801,0.801]},
      {"Pe": "0.3", "id": "y01", "N": [7000,7100,7100,7000], "V2": [8100,8100,8200,8200], "Pa": [0.801,0.801,0.801,0.801]},
      {"Pe": "0.3", "id": "y11", "N": [7100,7200,7200,7100], "V2": [8100,8100,8200,8200], "Pa": [0.801,0.799,0.801,0.801]},
      {"Pe": "0.3", "id": "y02", "N": [7000,7100,7100,7000], "V2": [8200,8200,8300,8300], "Pa": [0.801,0.801,0.801,0.741]},
      {"Pe": "0.3", "id": "y12", "N": [7100,7200,7200,7100], "V2": [8200,8200,8300,8300], "Pa": [0.801,0.801,0.801,0.801]},
      {"Pe": "0.3", "id": "y22", "N": [7200,7300,7300,7200], "V2": [8200,8200,8300,8300], "Pa": [0.801,0.799,0.801,0.801]},
      {"Pe": "0.3", "id": "y13", "N": [7100,7200,7200,7100], "V2": [8300,8300,8400,8400], "Pa": [0.801,0.801,0.801,0.777]},
      {"Pe": "0.3", "id": "y23", "N": [7200,7300,7300,7200], "V2": [8300,8300,8400,8400], "Pa": [0.801,0.801,0.801,0.801]},
      {"Pe": "0.3", "id": "y33", "N": [7300,7400,7400,7300], "V2": [8300,8300,8400,8400], "Pa": [0.801,0.799,0.801,0.801]},
      {"Pe": "0.3", "id": "y24", "N": [7200,7300,7300,7200], "V2": [8400,8400,8500,8500], "Pa": [0.801,0.801,0.801,0.775]},
      {"Pe": "0.3", "id": "y34", "N": [7300,7400,7400,7300], "V2": [8400,8400,8500,8500], "Pa": [0.801,0.801,0.801,0.801]},
      {"Pe": "0.3", "id": "y44", "N": [7400,7500,7500,7400], "V2": [8400,8400,8500,8500], "Pa": [0.801,0.799,0.801,0.801]},
      {"Pe": "0.3", "id": "y35", "N": [7300,7400,7400,7300], "V2": [8500,8500,8600,8600], "Pa": [0.801,0.801,0.801,0.774]},
      {"Pe": "0.3", "id": "y45", "N": [7400,7500,7500,7400], "V2": [8500,8500,8600,8600], "Pa": [0.801,0.801,0.801,0.801]},
      {"Pe": "0.3", "id": "y55", "N": [7500,7600,7600,7500], "V2": [8500,8500,8600,8600], "Pa": [0.801,0.799,0.801,0.801]},
      {"Pe": "0.3", "id": "y46", "N": [7400,7500,7500,7400], "V2": [8600,8600,8700,8700], "Pa": [0.801,0.801,0.801,0.773]},
      {"Pe": "0.3", "id": "y56", "N": [7500,7600,7600,7500], "V2": [8600,8600,8700,8700], "Pa": [0.801,0.801,0.801,0.801]},
      {"Pe": "0.3", "id": "y66", "N": [7600,7700,7700,7600], "V2": [8600,8600,8700,8700], "Pa": [0.801,0.799,0.801,0.801]},
      {"Pe": "0.3", "id": "y57", "N": [7500,7600,7600,7500], "V2": [8700,8700,8800,8800], "Pa": [0.801,0.801,0.801,0.772]},
      {"Pe": "0.3", "id": "y67", "N": [7600,7700,7700,7600], "V2": [8700,8700,8800,8800], "Pa": [0.801,0.801,0.801,0.801]},
      {"Pe": "0.3", "id": "y77", "N": [7700,7800,7800,7700], "V2": [8700,8700,8800,8800], "Pa": [0.801,0.799,0.801,0.801]},
      {"Pe": "0.3", "id": "y68", "N": [7600,7700,7700,7600], "V2": [8800,8800,8900,8900], "Pa": [0.801,0.801,0.801,0.771]},
      {"Pe": "0.3", "id": "y78", "N": [7700,7800,7800,7700], "V2": [8800,8800,8900,8900], "Pa": [0.801,0.801,0.801,0.801]},
      {"Pe": "0.3", "id": "y88", "N": [7800,7900,7900,7800], "V2": [8800,8800,8900,8900], "Pa": [0.801,0.799,0.801,0.801]},
      {"Pe": "0.3", "id": "y79", "N": [7700,7800,7800,7700], "V2": [8900,8900,9000,9000], "Pa": [0.801,0.801,0.801,0.772]},
      {"Pe": "0.3", "id": "y89", "N": [7800,7900,7900,7800], "V2": [8900,8900,9000,9000], "Pa": [0.801,0.801,0.801,0.801]},
      {"Pe": "0.3", "id": "y99", "N": [7900,8000,8000,7900], "V2": [8900,8900,9000,9000], "Pa": [0.801,0.799,0.801,0.801]},
      {"Pe": "0.3", "id": "yt3", "N": [7000,7100,7100], "V2": [8300,8300,8400], "Pa": [0.741,0.801,0.777]},
      {"Pe": "0.3", "id": "yt4", "N": [7100,7200,7200], "V2": [8400,8400,8500], "Pa": [0.777,0.801,0.775]},
      {"Pe": "0.3", "id": "yt5", "N": [7200,7300,7300], "V2": [8500,8500,8600], "Pa": [0.775,0.801,0.774]},
      {"Pe": "0.3", "id": "yt6", "N": [7300,7400,7400], "V2": [8600,8600,8700], "Pa": [0.774,0.801,0.773]},
      {"Pe": "0.3", "id": "yt7", "N": [7400,7500,7500], "V2": [8700,8700,8800], "Pa": [0.773,0.801,0.772]},
      {"Pe": "0.3", "id": "yt8", "N": [7500,7600,7600], "V2": [8800,8800,8900], "Pa": [0.772,0.801,0.771]},
      {"Pe": "0.3", "id": "yt9", "N": [7600,7700,7700], "V2": [8900,8900,9000], "Pa": [0.771,0.801,0.772]},

      {"Pe": "0.5", "id": "o10", "N": [7100,7200,7200,7100], "V2": [8000,8000,8100,8100], "Pa": [0.8,0.8,0.8,0.8]},
      {"Pe": "0.5", "id": "o20", "N": [7200,7300,7300,7200], "V2": [8000,8000,8100,8100], "Pa": [0.8,0.8,0.8,0.8]},
      {"Pe": "0.5", "id": "o30", "N": [7300,7400,7400,7300], "V2": [8000,8000,8100,8100], "Pa": [0.8,0.8,0.8,0.8]},
      {"Pe": "0.5", "id": "o40", "N": [7400,7500,7500,7400], "V2": [8000,8000,8100,8100], "Pa": [0.8,0.8,0.8,0.8]},
      {"Pe": "0.5", "id": "o50", "N": [7500,7600,7600,7500], "V2": [8000,8000,8100,8100], "Pa": [0.8,0.8,0.8,0.8]},
      {"Pe": "0.5", "id": "o60", "N": [7600,7700,7700,7600], "V2": [8000,8000,8100,8100], "Pa": [0.8,0.8,0.8,0.8]},
      {"Pe": "0.5", "id": "o70", "N": [7700,7800,7800,7700], "V2": [8000,8000,8100,8100], "Pa": [0.8,0.8,0.8,0.8]},
      {"Pe": "0.5", "id": "o80", "N": [7800,7900,7900,7800], "V2": [8000,8000,8100,8100], "Pa": [0.8,0.8,0.8,0.8]},
      {"Pe": "0.5", "id": "o90", "N": [7900,8000,8000,7900], "V2": [8000,8000,8100,8100], "Pa": [0.8,0.8,0.8,0.8]},
      {"Pe": "0.5", "id": "o21", "N": [7200,7300,7300,7200], "V2": [8100,8100,8200,8200], "Pa": [0.8,0.8,0.8,0.8]},
      {"Pe": "0.5", "id": "o31", "N": [7300,7400,7400,7300], "V2": [8100,8100,8200,8200], "Pa": [0.8,0.8,0.8,0.8]},
      {"Pe": "0.5", "id": "o41", "N": [7400,7500,7500,7400], "V2": [8100,8100,8200,8200], "Pa": [0.8,0.8,0.8,0.8]},
      {"Pe": "0.5", "id": "o51", "N": [7500,7600,7600,7500], "V2": [8100,8100,8200,8200], "Pa": [0.8,0.8,0.8,0.8]},
      {"Pe": "0.5", "id": "o61", "N": [7600,7700,7700,7600], "V2": [8100,8100,8200,8200], "Pa": [0.8,0.8,0.8,0.8]},
      {"Pe": "0.5", "id": "o71", "N": [7700,7800,7800,7700], "V2": [8100,8100,8200,8200], "Pa": [0.8,0.8,0.8,0.8]},
      {"Pe": "0.5", "id": "o81", "N": [7800,7900,7900,7800], "V2": [8100,8100,8200,8200], "Pa": [0.8,0.8,0.8,0.8]},
      {"Pe": "0.5", "id": "o91", "N": [7900,8000,8000,7900], "V2": [8100,8100,8200,8200], "Pa": [0.8,0.8,0.8,0.8]},
      {"Pe": "0.5", "id": "o32", "N": [7300,7400,7400,7300], "V2": [8200,8200,8300,8300], "Pa": [0.8,0.8,0.8,0.8]},
      {"Pe": "0.5", "id": "o42", "N": [7400,7500,7500,7400], "V2": [8200,8200,8300,8300], "Pa": [0.8,0.8,0.8,0.8]},
      {"Pe": "0.5", "id": "o52", "N": [7500,7600,7600,7500], "V2": [8200,8200,8300,8300], "Pa": [0.8,0.8,0.8,0.8]},
      {"Pe": "0.5", "id": "o62", "N": [7600,7700,7700,7600], "V2": [8200,8200,8300,8300], "Pa": [0.8,0.8,0.8,0.8]},
      {"Pe": "0.5", "id": "o72", "N": [7700,7800,7800,7700], "V2": [8200,8200,8300,8300], "Pa": [0.8,0.8,0.8,0.8]},
      {"Pe": "0.5", "id": "o82", "N": [7800,7900,7900,7800], "V2": [8200,8200,8300,8300], "Pa": [0.8,0.8,0.8,0.8]},
      {"Pe": "0.5", "id": "o92", "N": [7900,8000,8000,7900], "V2": [8200,8200,8300,8300], "Pa": [0.8,0.8,0.8,0.8]},
      {"Pe": "0.5", "id": "o43", "N": [7400,7500,7500,7400], "V2": [8300,8300,8400,8400], "Pa": [0.8,0.8,0.8,0.8]},
      {"Pe": "0.5", "id": "o53", "N": [7500,7600,7600,7500], "V2": [8300,8300,8400,8400], "Pa": [0.8,0.8,0.8,0.8]},
      {"Pe": "0.5", "id": "o63", "N": [7600,7700,7700,7600], "V2": [8300,8300,8400,8400], "Pa": [0.8,0.8,0.8,0.8]},
      {"Pe": "0.5", "id": "o73", "N": [7700,7800,7800,7700], "V2": [8300,8300,8400,8400], "Pa": [0.8,0.8,0.8,0.8]},
      {"Pe": "0.5", "id": "o83", "N": [7800,7900,7900,7800], "V2": [8300,8300,8400,8400], "Pa": [0.8,0.8,0.8,0.8]},
      {"Pe": "0.5", "id": "o93", "N": [7900,8000,8000,7900], "V2": [8300,8300,8400,8400], "Pa": [0.8,0.8,0.8,0.8]},
      {"Pe": "0.5", "id": "o54", "N": [7500,7600,7600,7500], "V2": [8400,8400,8500,8500], "Pa": [0.8,0.8,0.8,0.8]},
      {"Pe": "0.5", "id": "o64", "N": [7600,7700,7700,7600], "V2": [8400,8400,8500,8500], "Pa": [0.8,0.8,0.8,0.8]},
      {"Pe": "0.5", "id": "o74", "N": [7700,7800,7800,7700], "V2": [8400,8400,8500,8500], "Pa": [0.8,0.8,0.8,0.8]},
      {"Pe": "0.5", "id": "o84", "N": [7800,7900,7900,7800], "V2": [8400,8400,8500,8500], "Pa": [0.8,0.8,0.8,0.8]},
      {"Pe": "0.5", "id": "o94", "N": [7900,8000,8000,7900], "V2": [8400,8400,8500,8500], "Pa": [0.8,0.8,0.8,0.8]},
      {"Pe": "0.5", "id": "o65", "N": [7600,7700,7700,7600], "V2": [8500,8500,8600,8600], "Pa": [0.8,0.8,0.8,0.8]},
      {"Pe": "0.5", "id": "o75", "N": [7700,7800,7800,7700], "V2": [8500,8500,8600,8600], "Pa": [0.8,0.8,0.8,0.8]},
      {"Pe": "0.5", "id": "o85", "N": [7800,7900,7900,7800], "V2": [8500,8500,8600,8600], "Pa": [0.8,0.8,0.8,0.8]},
      {"Pe": "0.5", "id": "o95", "N": [7900,8000,8000,7900], "V2": [8500,8500,8600,8600], "Pa": [0.8,0.8,0.8,0.8]},
      {"Pe": "0.5", "id": "o76", "N": [7700,7800,7800,7700], "V2": [8600,8600,8700,8700], "Pa": [0.8,0.8,0.8,0.8]},
      {"Pe": "0.5", "id": "o86", "N": [7800,7900,7900,7800], "V2": [8600,8600,8700,8700], "Pa": [0.8,0.8,0.8,0.8]},
      {"Pe": "0.5", "id": "o96", "N": [7900,8000,8000,7900], "V2": [8600,8600,8700,8700], "Pa": [0.8,0.8,0.8,0.8]},
      {"Pe": "0.5", "id": "o87", "N": [7800,7900,7900,7800], "V2": [8700,8700,8800,8800], "Pa": [0.8,0.8,0.8,0.8]},
      {"Pe": "0.5", "id": "o97", "N": [7900,8000,8000,7900], "V2": [8700,8700,8800,8800], "Pa": [0.8,0.8,0.8,0.8]},
      {"Pe": "0.5", "id": "o98", "N": [7900,8000,8000,7900], "V2": [8800,8800,8900,8900], "Pa": [0.8,0.8,0.8,0.8]}
    ]
  },
  "layer": [
    {
      "data": {"name": "frame"},
      "transform": [
        {"filter": "datum.kind == 'g'"},
        {"flatten": ["N", "V2", "Pa"]},
        {"calculate": "0.482*(datum.N-7000) - 0.37*(datum.V2-8000)", "as": "px"},
        {"calculate": "0.146*(datum.N-7000) + 0.19*(datum.V2-8000) + 830*(datum.Pa-0.3)", "as": "py"}
      ],
      "mark": {"type": "line", "stroke": "#efefef", "strokeWidth": 1},
      "encoding": {
        "x": {"field": "px", "type": "quantitative", "scale": {"domain": [-505, 584], "nice": false, "zero": false}, "axis": null},
        "y": {"field": "py", "type": "quantitative", "scale": {"domain": [-63, 742], "nice": false, "zero": false}, "axis": null},
        "detail": {"field": "id"},
        "order": {"value": null}
      }
    },
    {
      "data": {"name": "frame"},
      "transform": [
        {"filter": "datum.kind == 'a'"},
        {"flatten": ["N", "V2", "Pa"]},
        {"calculate": "0.482*(datum.N-7000) - 0.37*(datum.V2-8000)", "as": "px"},
        {"calculate": "0.146*(datum.N-7000) + 0.19*(datum.V2-8000) + 830*(datum.Pa-0.3)", "as": "py"}
      ],
      "mark": {"type": "line", "stroke": "#262626", "strokeWidth": 1.2},
      "encoding": {
        "x": {"field": "px", "type": "quantitative", "scale": {"domain": [-505, 584], "nice": false, "zero": false}, "axis": null},
        "y": {"field": "py", "type": "quantitative", "scale": {"domain": [-63, 742], "nice": false, "zero": false}, "axis": null},
        "detail": {"field": "id"},
        "order": {"value": null}
      }
    },
    {
      "data": {"name": "cells"},
      "transform": [
        {"flatten": ["N", "V2", "Pa"]},
        {"calculate": "0.482*(datum.N-7000) - 0.37*(datum.V2-8000)", "as": "px"},
        {"calculate": "0.146*(datum.N-7000) + 0.19*(datum.V2-8000) + 830*(datum.Pa-0.3)", "as": "py"}
      ],
      "mark": {"type": "line", "filled": true, "stroke": "#000000", "strokeWidth": 1.3, "strokeJoin": "round", "interpolate": "linear-closed"},
      "encoding": {
        "x": {"field": "px", "type": "quantitative", "scale": {"domain": [-505, 584], "nice": false, "zero": false}, "axis": null},
        "y": {"field": "py", "type": "quantitative", "scale": {"domain": [-63, 742], "nice": false, "zero": false}, "axis": null},
        "color": {
          "field": "Pe",
          "type": "nominal",
          "scale": {"domain": ["0.3", "0.5", "0.7"], "range": ["#ffff00", "#ff8000", "#0000ff"]},
          "legend": {
            "title": null,
            "orient": "none",
            "legendX": 753,
            "legendY": 15,
            "padding": 9,
            "strokeColor": "#262626",
            "fillColor": "#ffffff",
            "symbolType": "M-1,-0.32H1V0.32H-1Z",
            "symbolSize": 7744,
            "symbolStrokeColor": "#262626",
            "symbolStrokeWidth": 1,
            "symbolOpacity": 1,
            "clipHeight": 28,
            "rowPadding": 8,
            "labelFontSize": 26,
            "labelFont": "Liberation Sans",
            "labelColor": "#000000",
            "labelOffset": 8,
            "labelExpr": "'Pe = ' + datum.label"
          }
        },
        "detail": {"field": "id"},
        "order": {"value": null}
      }
    },
    {
      "data": {"name": "labels"},
      "transform": [
        {"filter": "datum.kind == 'z'"},
        {"calculate": "0.482*(datum.N-7000) - 0.37*(datum.V2-8000)", "as": "px"},
        {"calculate": "0.146*(datum.N-7000) + 0.19*(datum.V2-8000) + 830*(datum.Pa-0.3)", "as": "py"}
      ],
      "mark": {"type": "text", "align": "right", "baseline": "middle", "dx": -25, "dy": -6, "fontSize": 28, "font": "Liberation Sans", "color": "#262626"},
      "encoding": {
        "x": {"field": "px", "type": "quantitative", "scale": {"domain": [-505, 584], "nice": false, "zero": false}, "axis": null},
        "y": {"field": "py", "type": "quantitative", "scale": {"domain": [-63, 742], "nice": false, "zero": false}, "axis": null},
        "text": {"field": "t"}
      }
    },
    {
      "data": {"name": "labels"},
      "transform": [
        {"filter": "datum.kind == 'v'"},
        {"calculate": "0.482*(datum.N-7000) - 0.37*(datum.V2-8000)", "as": "px"},
        {"calculate": "0.146*(datum.N-7000) + 0.19*(datum.V2-8000) + 830*(datum.Pa-0.3)", "as": "py"}
      ],
      "mark": {"type": "text", "align": "right", "baseline": "middle", "dx": -27, "dy": 28, "fontSize": 28, "font": "Liberation Sans", "color": "#262626"},
      "encoding": {
        "x": {"field": "px", "type": "quantitative", "scale": {"domain": [-505, 584], "nice": false, "zero": false}, "axis": null},
        "y": {"field": "py", "type": "quantitative", "scale": {"domain": [-63, 742], "nice": false, "zero": false}, "axis": null},
        "text": {"field": "t"}
      }
    },
    {
      "data": {"name": "labels"},
      "transform": [
        {"filter": "datum.kind == 'n'"},
        {"calculate": "0.482*(datum.N-7000) - 0.37*(datum.V2-8000)", "as": "px"},
        {"calculate": "0.146*(datum.N-7000) + 0.19*(datum.V2-8000) + 830*(datum.Pa-0.3)", "as": "py"}
      ],
      "mark": {"type": "text", "align": "left", "baseline": "middle", "dx": 22, "dy": 31, "fontSize": 28, "font": "Liberation Sans", "color": "#262626"},
      "encoding": {
        "x": {"field": "px", "type": "quantitative", "scale": {"domain": [-505, 584], "nice": false, "zero": false}, "axis": null},
        "y": {"field": "py", "type": "quantitative", "scale": {"domain": [-63, 742], "nice": false, "zero": false}, "axis": null},
        "text": {"field": "t"}
      }
    },
    {
      "data": {"name": "labels"},
      "transform": [
        {"filter": "datum.kind == 'tv'"},
        {"calculate": "0.482*(datum.N-7000) - 0.37*(datum.V2-8000)", "as": "px"},
        {"calculate": "0.146*(datum.N-7000) + 0.19*(datum.V2-8000) + 830*(datum.Pa-0.3)", "as": "py"}
      ],
      "mark": {"type": "text", "align": "center", "baseline": "middle", "dx": -43, "dy": 120, "fontSize": 30, "font": "Liberation Sans", "color": "#262626"},
      "encoding": {
        "x": {"field": "px", "type": "quantitative", "scale": {"domain": [-505, 584], "nice": false, "zero": false}, "axis": null},
        "y": {"field": "py", "type": "quantitative", "scale": {"domain": [-63, 742], "nice": false, "zero": false}, "axis": null},
        "text": {"field": "t"}
      }
    },
    {
      "data": {"name": "labels"},
      "transform": [
        {"filter": "datum.kind == 'tn'"},
        {"calculate": "0.482*(datum.N-7000) - 0.37*(datum.V2-8000)", "as": "px"},
        {"calculate": "0.146*(datum.N-7000) + 0.19*(datum.V2-8000) + 830*(datum.Pa-0.3)", "as": "py"}
      ],
      "mark": {"type": "text", "align": "center", "baseline": "middle", "dx": 4, "dy": 110, "fontSize": 30, "font": "Liberation Sans", "color": "#262626"},
      "encoding": {
        "x": {"field": "px", "type": "quantitative", "scale": {"domain": [-505, 584], "nice": false, "zero": false}, "axis": null},
        "y": {"field": "py", "type": "quantitative", "scale": {"domain": [-63, 742], "nice": false, "zero": false}, "axis": null},
        "text": {"field": "t"}
      }
    },
    {
      "data": {"name": "labels"},
      "transform": [
        {"filter": "datum.kind == 'tz'"},
        {"calculate": "0.482*(datum.N-7000) - 0.37*(datum.V2-8000)", "as": "px"},
        {"calculate": "0.146*(datum.N-7000) + 0.19*(datum.V2-8000) + 830*(datum.Pa-0.3)", "as": "py"}
      ],
      "mark": {"type": "text", "align": "center", "baseline": "alphabetic", "angle": 270, "dx": 0, "dy": -93, "fontSize": 30, "font": "Liberation Sans", "color": "#262626"},
      "encoding": {
        "x": {"field": "px", "type": "quantitative", "scale": {"domain": [-505, 584], "nice": false, "zero": false}, "axis": null},
        "y": {"field": "py", "type": "quantitative", "scale": {"domain": [-63, 742], "nice": false, "zero": false}, "axis": null},
        "text": {"field": "t"}
      }
    }
  ]
}
